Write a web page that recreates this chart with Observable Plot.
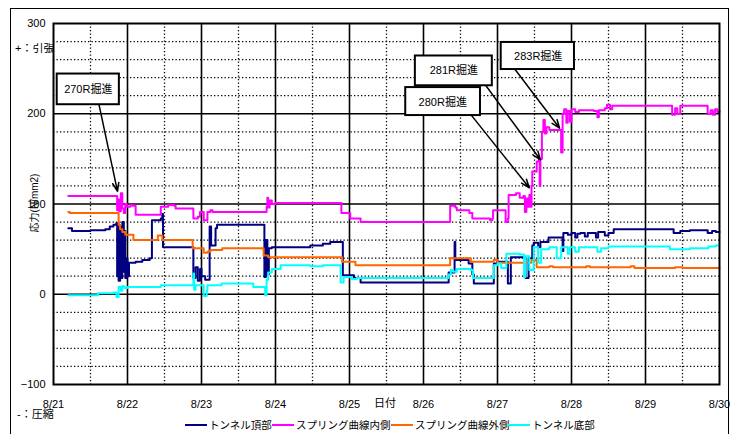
<!DOCTYPE html>
<html>
<head>
<meta charset="utf-8">
<script src="https://cdn.jsdelivr.net/npm/d3@7"></script>
<script src="https://cdn.jsdelivr.net/npm/@observablehq/plot@0.6"></script>
<style>
  body { margin: 0; background: #fff; }
  #wrap { position: relative; width: 736px; height: 434px; overflow: hidden; background: #fff;
          font-family: "Liberation Sans", Arial, "Noto Sans CJK JP", sans-serif; color: #000; }
  #frame { position: absolute; left: 10px; top: 8px; width: 719px; height: 440px; border: 1.5px solid #000; box-sizing: border-box; }
  .lbl { position: absolute; font-size: 11px; white-space: nowrap; line-height: 1; }
  #ytitle { position: absolute; left: 2px; top: 197px; width: 66px; height: 12px; line-height: 12px; font-size: 10px;
            text-align: center; white-space: nowrap; transform: rotate(-90deg); transform-origin: 50% 50%; }
  #chart { position: absolute; left: 0; top: 0; }
  .leg { position: absolute; top: 420px; font-size: 10.5px; line-height: 1; white-space: nowrap; display: flex; align-items: center; }
  .leg i { display: inline-block; width: 22px; height: 2px; margin-right: 2px; }
</style>
</head>
<body>
<div id="wrap">
  <div id="frame"></div>
  <div class="lbl" style="left:15px; top:43px; width:38px; overflow:hidden;">+：引張</div>
  <div class="lbl" style="left:17px; top:409px;">-：圧縮</div>
  <div class="lbl" style="left:374px; top:398px;">日付</div>
  <div id="ytitle">応力(N/mm2)</div>
  <div id="chart"></div>
</div>
<script>
// x = day of August (8/21 .. 8/30), y = stress (N/mm2); step changes
const days = [21, 22, 23, 24, 25, 26, 27, 28, 29, 30];
const yTicks = [-100, 0, 100, 200, 300];
const seriesNames = ["トンネル頂部", "スプリング曲線内側", "スプリング曲線外側", "トンネル底部"];
const seriesColors = ["#000080", "#ff00ff", "#ff6600", "#00ffff"];

const crown = [
  [21.2,73],[21.25,70],[21.5,71],[21.7,72],[21.76,75],[21.81,77],[21.85,79],[21.86,20],[21.87,78],[21.88,15],
  [21.9,75],[21.91,18],[21.93,80],[21.95,25],[21.96,70],[21.97,18],[21.99,40],[22.0,20],[22.02,35],[22.11,36],
  [22.2,38],[22.3,40],[22.33,82],[22.45,84],[22.47,89],[22.48,52],[22.89,18],[22.92,30],[22.95,15],[22.98,28],
  [23.0,20],[23.05,16],[23.11,75],[23.13,54],[23.19,73],[23.21,77],[23.84,77],[23.85,19],[23.87,60],[23.89,22],
  [23.91,51],[23.95,52],[24.47,54],[24.64,56],[24.74,58],[24.91,21],[25.06,18],[25.15,13],[26.34,24],[26.41,24],
  [26.42,58],[26.43,38],[26.61,34],[26.66,22],[26.68,12],[26.93,12],[26.95,34],[27.0,36],[27.14,12],[27.18,41],
  [27.38,18],[27.42,40],[27.47,54],[27.49,57],[27.55,52],[27.58,58],[27.69,63],[27.88,48],[27.89,68],[27.95,66],
  [28.0,68],[28.05,63],[28.08,67],[28.12,68],[28.18,64],[28.22,68],[28.33,63],[28.36,69],[28.45,65],[28.5,68],
  [28.57,72],[29.38,68],[29.47,70],[29.6,71],[29.84,68],[29.9,70],[29.95,69],[30.0,69]
];
const innerSpring = [
  [21.2,109],[21.86,93],[21.87,105],[21.89,92],[21.91,112],[21.93,95],[21.95,90],[21.97,100],[21.99,97],[22.04,99],
  [22.07,98],[22.11,88],[22.45,97],[22.55,99],[22.63,98],[22.65,95],[22.89,84],[22.95,86],[22.98,91],[23.03,82],
  [23.08,91],[23.12,93],[23.15,91],[23.88,97],[23.89,107],[23.9,96],[23.92,104],[23.95,100],[24.0,101],[24.89,90],
  [25.01,84],[25.15,80],[26.36,98],[26.43,96],[26.45,93],[26.62,90],[26.66,84],[26.9,82],[26.93,84],[26.94,93],
  [27.11,80],[27.14,84],[27.15,110],[27.25,112],[27.3,107],[27.35,109],[27.37,91],[27.39,106],[27.41,97],[27.43,110],
  [27.45,97],[27.46,120],[27.47,136],[27.53,147],[27.56,150],[27.57,120],[27.58,150],[27.6,180],[27.62,193],[27.64,178],
  [27.66,185],[27.7,182],[27.86,157],[27.88,200],[27.9,205],[27.93,190],[27.95,203],[27.98,191],[28.0,205],[28.05,202],
  [28.1,204],[28.3,203],[28.35,196],[28.37,204],[28.45,206],[28.48,210],[28.52,205],[28.55,209],[29.36,199],[29.4,206],
  [29.43,200],[29.47,209],[29.84,200],[29.88,204],[29.91,199],[29.94,205],[29.97,202],[30.0,203]
];
const outerSpring = [
  [21.2,91],[21.22,90],[21.86,90],[21.88,77],[21.9,72],[21.93,69],[21.97,66],[22.08,60],[22.41,65],[22.47,60],
  [22.88,51],[23.03,46],[23.08,47],[23.12,49],[23.28,51],[23.84,43],[23.9,41],[24.9,36],[25.08,32],[26.36,40],
  [26.64,36],[26.95,38],[27.0,35],[27.46,38],[27.53,30],[27.7,31],[27.75,30],[28.2,31],[28.25,30],[28.8,31],
  [28.85,29],[29.4,30],[29.5,29],[30.0,29]
];
const bottom = [
  [21.2,-1],[21.6,1],[21.82,2],[21.85,-3],[21.88,8],[21.91,4],[21.93,9],[21.96,7],[22.0,8],[22.45,10],
  [22.88,10],[22.89,23],[22.9,5],[22.92,10],[23.03,-2],[23.07,4],[23.08,10],[23.27,12],[23.7,8],[23.86,-1],
  [23.88,16],[23.9,24],[23.95,28],[24.07,32],[24.47,31],[24.64,32],[24.88,13],[24.92,19],[25.03,17],[25.1,18],
  [26.34,22],[26.37,27],[26.4,25],[26.45,28],[26.64,27],[26.67,18],[26.95,32],[27.0,34],[27.05,29],[27.12,45],
  [27.3,44],[27.36,19],[27.38,42],[27.43,27],[27.49,52],[27.55,35],[27.59,50],[27.7,52],[27.8,40],[27.86,52],
  [27.95,45],[27.98,52],[28.05,47],[28.1,52],[28.35,47],[28.4,51],[28.5,53],[29.33,50],[29.6,51],[29.85,53],
  [29.95,54],[30.0,54]
];

// annotations: label, box (x1,x2,y1,y2), text position, arrow start -> tip (data units)
const notes = [
  {label: "270R掘進", x1: 21.05, x2: 21.89, y1: 210, y2: 244, tx: 21.47, ty: 227, ax: 21.61, ay: 212, bx: 21.865, by: 114},
  {label: "281R掘進", x1: 25.89, x2: 26.93, y1: 231, y2: 264, tx: 26.41, ty: 248, ax: 26.80, ay: 236, bx: 27.58, by: 149},
  {label: "280R掘進", x1: 25.76, x2: 26.77, y1: 198, y2: 229, tx: 26.26, ty: 213, ax: 26.64, ay: 199, bx: 27.43, by: 118},
  {label: "283R掘進", x1: 27.05, x2: 28.04, y1: 249, y2: 279, tx: 27.55, ty: 264, ax: 27.22, ay: 251, bx: 27.84, by: 184}
];

const minorX = d3.range(21.5, 30, 1);
const majorX = d3.range(22, 30, 1);
const minorY = d3.range(-80, 300, 20).filter(v => v % 100 !== 0);
const majorY = [0, 100, 200];

const lineOpts = (color) => ({x: d => d[0], y: d => d[1], stroke: color, strokeWidth: 2, curve: "step-after"});

const noteMarks = [];
for (const n of notes) {
  noteMarks.push(Plot.arrow([n], {x1: "ax", y1: "ay", x2: "bx", y2: "by", stroke: "#000", strokeWidth: 1.5, headLength: 9, headAngle: 40}));
  noteMarks.push(Plot.rect([n], {x1: "x1", x2: "x2", y1: "y1", y2: "y2", fill: "#fff", stroke: "#000", strokeWidth: 2}));
  noteMarks.push(Plot.text([n], {x: "tx", y: "ty", text: "label", fontSize: 11, fill: "#000"}));
}

const chart = Plot.plot({
  width: 736, height: 434,
  marginLeft: 53, marginRight: 17, marginTop: 23, marginBottom: 50,
  style: {fontFamily: "'Liberation Sans', Arial, 'Noto Sans CJK JP', sans-serif", fontSize: "11px", background: "transparent", color: "#000", overflow: "visible"},
  x: {domain: [21, 30], ticks: days, tickFormat: d => `8/${d}`, tickSize: 0, tickPadding: 16, label: null},
  y: {domain: [-100, 300], ticks: yTicks, tickSize: 0, tickPadding: 8, label: null},
  marks: [
    Plot.ruleX(minorX, {stroke: "#000", strokeWidth: 1.3, strokeDasharray: "1.3,2.2"}),
    Plot.ruleY(minorY, {stroke: "#000", strokeWidth: 1.3, strokeDasharray: "1.3,2.2"}),
    Plot.ruleX(majorX, {stroke: "#000", strokeWidth: 1.6}),
    Plot.ruleY(majorY, {stroke: "#000", strokeWidth: 1.6}),
    Plot.line(crown, lineOpts(seriesColors[0])),
    Plot.line(innerSpring, lineOpts(seriesColors[1])),
    Plot.line(outerSpring, lineOpts(seriesColors[2])),
    Plot.line(bottom, lineOpts(seriesColors[3])),
    Plot.frame({stroke: "#000", strokeWidth: 2}),
    ...noteMarks
  ]
});
document.getElementById("chart").appendChild(chart);

// legend
const legLeft = [185, 272, 391, 508];
const wrap = document.getElementById("wrap");
seriesNames.forEach((name, i) => {
  const d = document.createElement("div");
  d.className = "leg";
  d.style.left = legLeft[i] + "px";
  d.innerHTML = `<i style="background:${seriesColors[i]}"></i><span>${name}</span>`;
  wrap.appendChild(d);
});
</script>
</body>
</html>
